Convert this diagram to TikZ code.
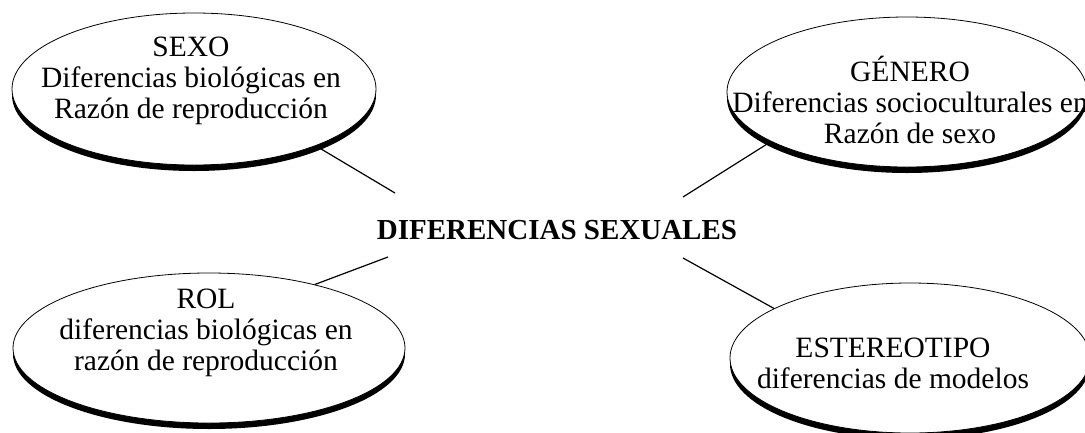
\documentclass[tikz,border=0pt]{standalone}
\usepackage{fontspec}
\setmainfont{Liberation Serif}
\usetikzlibrary{shapes.geometric,shadows}
\tikzset{
  bubble/.style={ellipse, draw=black, line width=0.8pt, fill=white, inner sep=0pt,
    drop shadow={shadow xshift=0pt, shadow yshift=-6pt, opacity=1, fill=black}},
  btext/.style={anchor=base, align=center, font=\fontsize{29.5}{31}\selectfont, inner sep=0pt},
  conn/.style={draw=black, line width=1.2pt}
}
\begin{document}
\begin{tikzpicture}[x=1pt,y=-1pt]
\useasboundingbox (0,0) rectangle (1085,432);
\clip (0,0) rectangle (1085,432);
% free ends near the central title
\coordinate (c1) at (395,193);
\coordinate (c2) at (683,197);
\coordinate (c3) at (388,257);
\coordinate (c4) at (683,258);
% invisible ellipses first to get anchors for connectors
\path node[ellipse, minimum width=364pt, minimum height=152pt, inner sep=0pt] (sexo) at (194,89) {};
\path node[ellipse, minimum width=360pt, minimum height=150pt, inner sep=0pt] (genero) at (907,92) {};
\path node[ellipse, minimum width=392pt, minimum height=150pt, inner sep=0pt] (rol) at (209,348) {};
\path node[ellipse, minimum width=360pt, minimum height=150pt, inner sep=0pt] (estereo) at (910,358) {};
% connectors (drawn below the bubbles)
\draw[conn] (c1) -- (sexo.-25);
\draw[conn] (c2) -- (genero.200);
\draw[conn] (c3) -- (rol.31);
\draw[conn] (c4) -- (estereo.160);
% bubbles
\node[bubble, minimum width=364pt, minimum height=152pt] (sexoB) at (sexo) {};
\node[bubble, minimum width=360pt, minimum height=150pt] (generoB) at (genero) {};
\node[bubble, minimum width=392pt, minimum height=150pt] (rolB) at (rol) {};
\node[bubble, minimum width=360pt, minimum height=150pt] (estereoB) at (estereo) {};
% texts (base anchor = baseline of the last line)
\node[btext] (tsexo) at (191,118) {SEXO\\Diferencias biológicas en\\Razón de reproducción};
\node[btext] (tgenero) at (910,143) {GÉNERO\\Diferencias socioculturales en\\Razón de sexo};
\node[btext] (trol) at (206,370) {ROL\\diferencias biológicas en\\razón de reproducción};
\node[btext] (testereo) at (893,388) {ESTEREOTIPO\\diferencias de modelos};
\node[anchor=base, inner sep=0pt, font=\bfseries\fontsize{29}{33}\selectfont] (title) at (557,239) {DIFERENCIAS SEXUALES};
\end{tikzpicture}
\end{document}
